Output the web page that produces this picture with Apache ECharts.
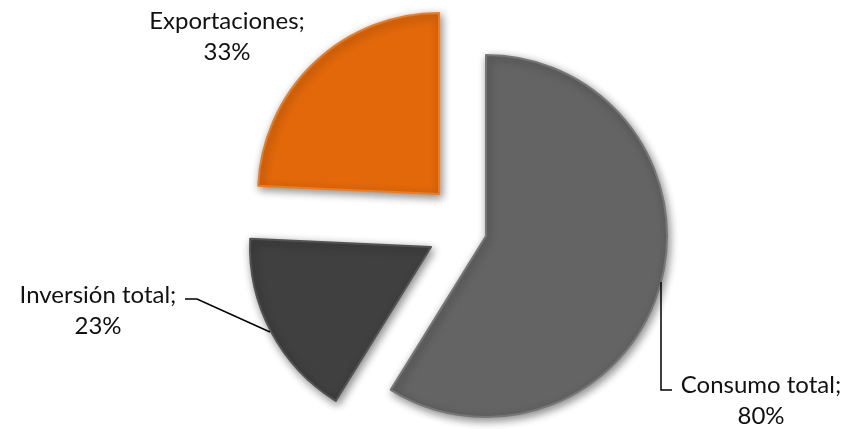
<!DOCTYPE html>
<html>
<head>
<meta charset="utf-8">
<script src="https://cdn.jsdelivr.net/npm/echarts@6/dist/echarts.min.js"></script>
<style>html,body{margin:0;padding:0;background:#fff}#c{width:859px;height:429px}</style>
</head>
<body>
<div id="c"></div>
<script>
const categories = ['Consumo total', 'Inversión total', 'Exportaciones'];
const values = [80, 23, 33];
const colors = ['#646464', '#404040', '#E2680A'];
const borderColors = ['#767676', '#535353', '#EE7B1E'];
// each slice is exploded on its own: centre of each slice
const centers = [[486, 236], [431, 247], [439, 194]];
const labelPos = [
  {x: 761, y: 401},
  {x: 98, y: 311},
  {x: 227, y: 37}
];
const leaderLines = [
  [[661, 282], [661, 390], [672, 390]],
  [[185, 299], [197, 299], [270, 332]]
];

const chart = echarts.init(document.getElementById('c'));
const series = categories.map((_, k) => ({
  type: 'pie',
  center: centers[k],
  radius: 181,
  startAngle: 90,
  clockwise: true,
  silent: true,
  animation: false,
  avoidLabelOverlap: false,
  label: {
    show: true,
    formatter: '{b};\n{c}%',
    fontFamily: 'Lato, "Open Sans", sans-serif',
    fontSize: 24,
    lineHeight: 31,
    color: '#111',
    align: 'center'
  },
  labelLine: { show: false },
  labelLayout: function () {
    return {
      x: labelPos[k].x,
      y: labelPos[k].y,
      align: 'center',
      verticalAlign: 'middle'
    };
  },
  data: categories.map((n, i) => ({
    name: n,
    value: values[i],
    itemStyle: i === k ? {
      color: colors[i],
      borderColor: borderColors[i],
      borderWidth: 2,
      shadowBlur: 8,
      shadowColor: 'rgba(0,0,0,0.45)',
      shadowOffsetX: 2,
      shadowOffsetY: 3
    } : { color: 'rgba(0,0,0,0)', borderWidth: 0 },
    label: { show: i === k },
    labelLine: { show: false }
  }))
}));

chart.setOption({
  backgroundColor: '#fff',
  series: series,
  graphic: leaderLines.map(pts => ({
    type: 'polyline',
    shape: { points: pts },
    style: { stroke: '#000', lineWidth: 1.5, fill: null },
    silent: true,
    z: 10
  }))
});
</script>
</body>
</html>
